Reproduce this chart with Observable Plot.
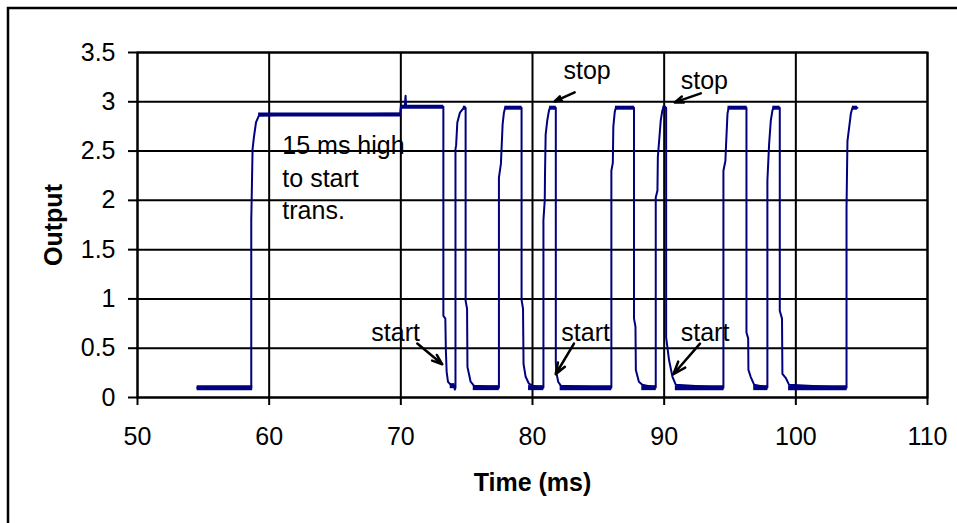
<!DOCTYPE html>
<html><head><meta charset="utf-8">
<script src="https://cdn.jsdelivr.net/npm/d3@7"></script>
<script src="https://cdn.jsdelivr.net/npm/@observablehq/plot@0.6"></script>
<style>body{margin:0;background:#fff} svg{display:block}</style>
</head><body><div id="chart"></div>
<script>
// Axis ticks
const xTicks = [50, 60, 70, 80, 90, 100, 110];
const yTicks = [0, 0.5, 1, 1.5, 2, 2.5, 3, 3.5];

// Measured trace: time (ms) and output
const time = [
  54.53, 58.64,
  58.64, 58.66, 58.74, 58.84, 59.0, 59.22,
  62.0, 65.3, 69.95, 70.0, 70.3, 70.36, 70.4, 73.23,
  73.23, 73.38, 73.42, 73.48, 73.58, 73.78, 74.05, 74.1, 74.15,
  74.15, 74.2, 74.29, 74.49, 74.79, 74.92,
  74.92, 75.03, 75.06, 75.3, 75.55, 77.45,
  77.45, 77.6, 77.73, 77.83, 77.92, 79.17,
  79.17, 79.28, 79.32, 79.48, 79.73, 80.0, 80.83,
  80.83, 80.93, 80.95, 81.0, 81.12, 81.25, 81.32, 81.77,
  81.77, 81.82, 81.95, 82.15, 85.99,
  85.99, 86.1, 86.14, 86.25, 86.33, 87.71,
  87.71, 87.82, 87.85, 88.08, 88.34, 89.36,
  89.36, 89.49, 89.52, 89.74, 89.86, 89.95, 90.15,
  90.15, 90.37, 90.63, 90.88, 94.5,
  94.5, 94.65, 94.68, 94.81, 94.9, 96.25,
  96.25, 96.38, 96.4, 96.57, 96.83, 97.84,
  97.84, 97.97, 98.1, 98.22, 98.3, 98.78,
  98.78, 98.95, 98.98, 99.23, 99.48, 103.85,
  103.85, 103.92, 104.05, 104.18, 104.3, 104.68
];
const output = [
  0.1, 0.1,
  1.8, 1.93, 2.52, 2.64, 2.79, 2.86,
  2.87, 2.87, 2.88, 2.95, 2.95, 3.06, 2.95, 2.95,
  0.83, 0.8, 0.48, 0.26, 0.16, 0.13, 0.12, 0.08, 0.1,
  2.52, 2.56, 2.79, 2.89, 2.94, 2.94,
  0.98, 0.9, 0.31, 0.16, 0.12, 0.1,
  2.23, 2.37, 2.77, 2.89, 2.94, 2.94,
  0.99, 0.9, 0.34, 0.21, 0.14, 0.12, 0.1,
  1.8, 2.0, 2.27, 2.67, 2.81, 2.91, 2.94, 2.94,
  0.35, 0.25, 0.16, 0.12, 0.1,
  2.3, 2.38, 2.75, 2.9, 2.94, 2.94,
  0.8, 0.72, 0.28, 0.16, 0.13, 0.1,
  2.03, 2.1, 2.44, 2.81, 2.91, 2.94, 2.94,
  0.61, 0.38, 0.21, 0.13, 0.1,
  2.3, 2.4, 2.5, 2.88, 2.94, 2.94,
  0.66, 0.6, 0.28, 0.21, 0.13, 0.1,
  2.2, 2.57, 2.81, 2.91, 2.94, 2.94,
  0.88, 0.8, 0.24, 0.2, 0.13, 0.1,
  1.93, 2.6, 2.74, 2.88, 2.94, 2.94
];

// Dense (noisy) plateaus of the trace
const lowStart = [54.53, 73.75, 75.5, 79.7, 82.1, 88.3, 90.85, 96.8, 99.45];
const lowEnd   = [58.75, 74.12, 77.48, 80.86, 86.02, 89.4, 94.55, 97.88, 103.9];
const lowLevel = [0.1, 0.12, 0.1, 0.1, 0.1, 0.1, 0.1, 0.1, 0.1];
const highStart = [59.2, 70.0, 74.75, 77.9, 81.3, 86.3, 89.9, 94.85, 98.25, 104.3];
const highEnd   = [70.0, 73.25, 74.95, 79.2, 81.8, 87.75, 90.18, 96.3, 98.8, 104.68];
const highLevel = [2.87, 2.95, 2.94, 2.94, 2.94, 2.94, 2.94, 2.94, 2.94, 2.94];

// Annotations
const noteText = ["15 ms high\nto start\ntrans."];
const noteX = [61.0];
const noteY = [2.704];
const labelText = ["start", "start", "start", "stop", "stop"];
const labelX = [67.76, 82.19, 91.26, 82.35, 91.26];
const labelY = [0.573, 0.573, 0.573, 3.23, 3.13];
const arrowX1 = [71.25, 83.15, 92.72, 83.2, 92.78];
const arrowY1 = [0.547, 0.547, 0.547, 3.095, 3.085];
const arrowX2 = [73.15, 81.76, 90.70, 81.68, 90.80];
const arrowY2 = [0.337, 0.236, 0.236, 3.004, 2.994];

const navy = "#000080";
const trace = time.map((t, i) => ({t, v: output[i]}));
const lows = lowStart.map((s, i) => ({s, e: lowEnd[i], v: lowLevel[i]}));
const highs = highStart.map((s, i) => ({s, e: highEnd[i], v: highLevel[i]}));
const labels = labelText.map((text, i) => ({text, x: labelX[i], y: labelY[i]}));
const arrows = arrowX1.map((x1, i) => ({x1, y1: arrowY1[i], x2: arrowX2[i], y2: arrowY2[i]}));
const notes = noteText.map((text, i) => ({text, x: noteX[i], y: noteY[i]}));

const fmt = d => String(d);
const chart = Plot.plot({
  width: 957,
  height: 523,
  marginLeft: 137,
  marginRight: 30,
  marginTop: 52,
  marginBottom: 126,
  style: {fontFamily: "'Liberation Sans', Arial, sans-serif", fontSize: "25px", background: "#fff", color: "#000"},
  x: {domain: [50, 110]},
  y: {domain: [0, 3.5]},
  marks: [
    Plot.gridX(xTicks, {stroke: "#000", strokeOpacity: 1, strokeWidth: 2}),
    Plot.gridY(yTicks, {stroke: "#000", strokeOpacity: 1, strokeWidth: 2}),
    Plot.frame({stroke: "#000", strokeWidth: 2}),
    Plot.axisX(xTicks, {tickSize: 8, tickPadding: 22, fontSize: 25, strokeWidth: 2, tickFormat: fmt, label: null}),
    Plot.axisY(yTicks, {tickSize: 9, tickPadding: 13, fontSize: 25, strokeWidth: 2, tickFormat: fmt, label: null}),
    Plot.ruleY(lows, {x1: "s", x2: "e", y: "v", stroke: navy, strokeWidth: 5}),
    Plot.ruleY(highs, {x1: "s", x2: "e", y: "v", stroke: navy, strokeWidth: 4}),
    Plot.line(trace, {x: "t", y: "v", stroke: navy, strokeWidth: 2}),
    Plot.text(notes, {x: "x", y: "y", text: "text", textAnchor: "start", lineAnchor: "top", lineHeight: 1.3, fontSize: 25, fill: "#000"}),
    Plot.text(labels, {x: "x", y: "y", text: "text", textAnchor: "start", lineAnchor: "bottom", fontSize: 25, fill: "#000"}),
    Plot.arrow(arrows, {x1: "x1", y1: "y1", x2: "x2", y2: "y2", stroke: "#000", strokeWidth: 2.5, headLength: 10, headAngle: 40}),
    Plot.text(["Output"], {frameAnchor: "left", dx: -84, rotate: -90, fontWeight: "bold", fontSize: 25, textAnchor: "middle", lineAnchor: "middle", fill: "#000"}),
    Plot.text(["Time (ms)"], {frameAnchor: "bottom", dy: 85.5, fontWeight: "bold", fontSize: 25, textAnchor: "middle", lineAnchor: "middle", fill: "#000"})
  ]
});
// outer chart-area border (top and left edges visible in the picture)
d3.select(chart).append("path")
  .attr("d", "M8,530V8H960")
  .attr("fill", "none").attr("stroke", "#000").attr("stroke-width", 2.5);
document.getElementById("chart").appendChild(chart);
</script>
</body></html>
